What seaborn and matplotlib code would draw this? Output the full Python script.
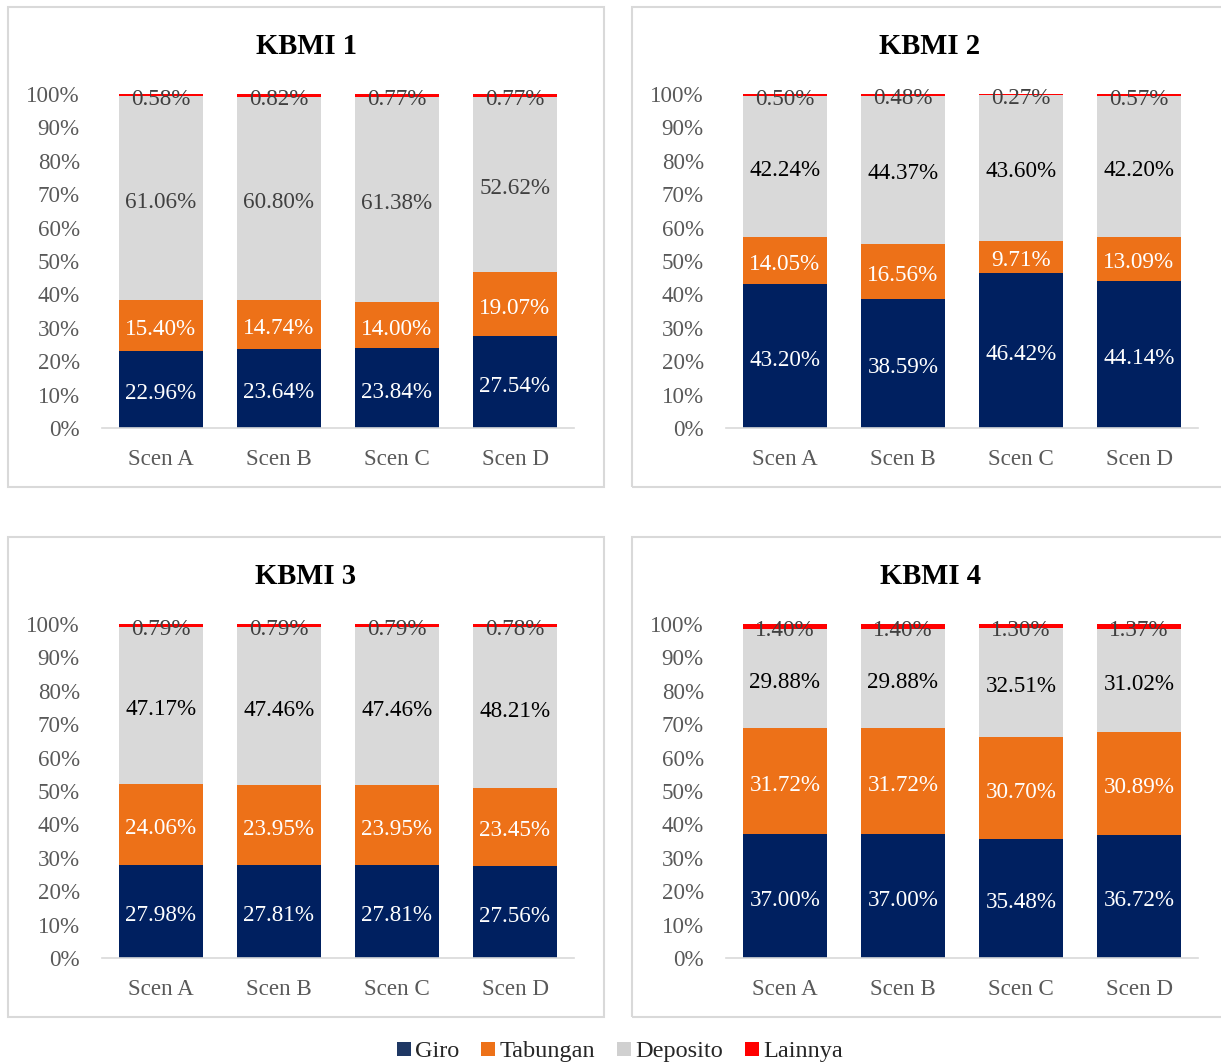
import matplotlib
matplotlib.use("Agg")
import matplotlib.pyplot as plt
from matplotlib.patches import Rectangle
from matplotlib.lines import Line2D
import matplotlib.transforms as mtransforms
import numpy as np
import pandas as pd
import seaborn as sns

# ---- data -------------------------------------------------------------
scenarios = ["Scen A", "Scen B", "Scen C", "Scen D"]
panels = ["KBMI 1", "KBMI 2", "KBMI 3", "KBMI 4"]
series = ["Giro", "Tabungan", "Deposito", "Lainnya"]

giro = {
    "KBMI 1": [22.96, 23.64, 23.84, 27.54],
    "KBMI 2": [43.20, 38.59, 46.42, 44.14],
    "KBMI 3": [27.98, 27.81, 27.81, 27.56],
    "KBMI 4": [37.00, 37.00, 35.48, 36.72],
}
tabungan = {
    "KBMI 1": [15.40, 14.74, 14.00, 19.07],
    "KBMI 2": [14.05, 16.56, 9.71, 13.09],
    "KBMI 3": [24.06, 23.95, 23.95, 23.45],
    "KBMI 4": [31.72, 31.72, 30.70, 30.89],
}
deposito = {
    "KBMI 1": [61.06, 60.80, 61.38, 52.62],
    "KBMI 2": [42.24, 44.37, 43.60, 42.20],
    "KBMI 3": [47.17, 47.46, 47.46, 48.21],
    "KBMI 4": [29.88, 29.88, 32.51, 31.02],
}
lainnya = {
    "KBMI 1": [0.58, 0.82, 0.77, 0.77],
    "KBMI 2": [0.50, 0.48, 0.27, 0.57],
    "KBMI 3": [0.79, 0.79, 0.79, 0.78],
    "KBMI 4": [1.40, 1.40, 1.30, 1.37],
}

colors = {"Giro": "#002060", "Tabungan": "#ED7118", "Deposito": "#D9D9D9", "Lainnya": "#FF0000"}
label_colors = {"Giro": "white", "Tabungan": "white", "Deposito": "#000000", "Lainnya": "#404040"}

# ---- style ------------------------------------------------------------
sns.set_theme(style="white")
plt.rcParams["font.family"] = ["Liberation Serif", "DejaVu Serif"]

W, H = 1221, 1063
fig = plt.figure(figsize=(W / 100, H / 100), dpi=100)


def fx(px):
    return px / W


def fy(py):
    return 1 - py / H


# panel layout in pixels: (frame x0, frame x1, frame y0, frame y1, axes left, axes right, y100, y0)
layout = {
    "KBMI 1": (8, 604, 7, 487, 102, 574, 94, 428),
    "KBMI 2": (632, 1228, 7, 487, 726, 1198, 94, 428),
    "KBMI 3": (8, 604, 537, 1017, 102, 574, 624, 958),
    "KBMI 4": (632, 1228, 537, 1017, 726, 1198, 624, 958),
}

for name in panels:
    fx0, fx1, fy0, fy1, al, ar, ytop, ybot = layout[name]

    # panel border
    fig.add_artist(Rectangle((fx(fx0), fy(fy1)), fx(fx1 - fx0), (fy1 - fy0) / H,
                             transform=fig.transFigure, fill=False,
                             edgecolor="#D9D9D9", linewidth=1.5))

    ax = fig.add_axes([fx(al), fy(ybot), fx(ar - al), (ybot - ytop) / H])

    df = pd.DataFrame({
        "scenario": scenarios,
        "Giro": giro[name],
        "Tabungan": tabungan[name],
        "Deposito": deposito[name],
        "Lainnya": lainnya[name],
    })
    total = df[series].sum(axis=1)
    shares = df[series].div(total, axis=0) * 100
    cum = shares.cumsum(axis=1)

    # stacked bars: draw cumulative heights from the top layer down
    for s in reversed(series):
        plot_df = pd.DataFrame({"scenario": scenarios, "value": cum[s]})
        sns.barplot(data=plot_df, x="scenario", y="value", color=colors[s],
                    width=0.71, saturation=1, errorbar=None, linewidth=0, ax=ax)

    # value labels at the middle of each segment
    shift = mtransforms.offset_copy(ax.transData, fig=fig, x=0, y=-3, units="points")
    for s in series:
        lower = cum[s] - shares[s]
        for i in range(len(scenarios)):
            mid = lower.iloc[i] + shares[s].iloc[i] / 2
            c = label_colors[s]
            if s == "Deposito" and name == "KBMI 1":
                c = "#404040"
            ax.text(i, mid, f"{df[s].iloc[i]:.2f}%", ha="center", va="center",
                    fontsize=16.7, color=c, transform=shift)

    ax.set_ylim(0, 100)
    ax.set_xlim(-0.5, 3.5)
    ax.set_yticks(np.arange(0, 101, 10))
    ax.set_yticklabels([f"{v}%" for v in range(0, 101, 10)])
    ax.set_xlabel("")
    ax.set_ylabel("")
    ax.tick_params(axis="y", length=0, pad=16, labelsize=16.6, labelcolor="#595959")
    ax.tick_params(axis="x", length=0, pad=15, labelsize=16.6, labelcolor="#595959")
    for sp in ["top", "left", "right"]:
        ax.spines[sp].set_visible(False)
    ax.spines["bottom"].set_color("#D9D9D9")
    ax.spines["bottom"].set_linewidth(1.2)
    ax.set_facecolor("none")

    fig.text(fx((fx0 + fx1) / 2), fy(fy0 + 39), name, ha="center", va="center",
             fontsize=20.6, fontweight="bold", color="black")

legend_colors = {"Giro": "#1F3864", "Tabungan": "#ED7118", "Deposito": "#D0D0D0", "Lainnya": "#FF0000"}
handles = [Line2D([0], [0], marker="s", linestyle="none", markersize=9.5,
                  markerfacecolor=legend_colors[s], markeredgewidth=0) for s in series]
fig.legend(handles, series, loc="center", bbox_to_anchor=(fx(619), fy(1051)),
           ncol=4, frameon=False, fontsize=17.5, handletextpad=0.1,
           columnspacing=0.85, handlelength=0.7, labelcolor="#262626",
           borderpad=0, borderaxespad=0)

fig.savefig("out.png", dpi=100)
